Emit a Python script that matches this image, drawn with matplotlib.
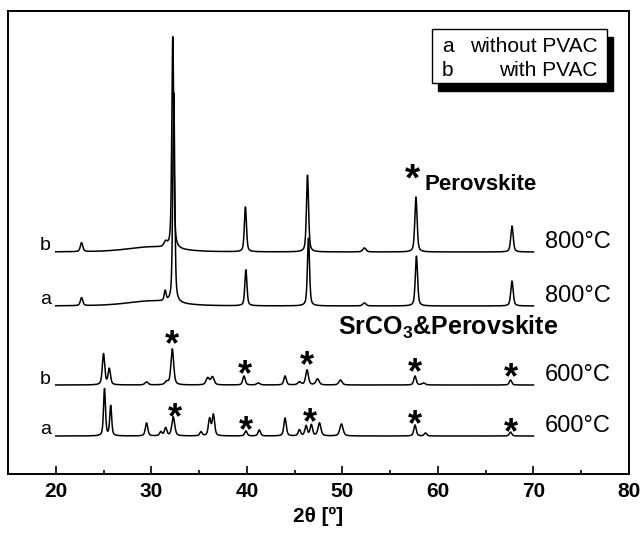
import numpy as np
import matplotlib
matplotlib.use('Agg')
import matplotlib.pyplot as plt
from matplotlib.patches import Rectangle

plt.rcParams['font.family'] = ['Liberation Sans', 'DejaVu Sans']
plt.rcParams['mathtext.fontset'] = 'custom'
plt.rcParams['mathtext.rm'] = 'Liberation Sans'
plt.rcParams['mathtext.bf'] = 'Liberation Sans:bold'

# peak tables for each pattern: (2theta, height, half width), intensities in a.u.
peaks_a600 = [(25.1, 47, 0.12), (25.75, 30, 0.12), (29.5, 13, 0.15), (31.0, 4, 0.15),
              (31.5, 8, 0.15), (32.3, 19, 0.18), (35.2, 4, 0.15), (36.1, 17, 0.15),
              (36.5, 21, 0.15), (39.9, 5, 0.15), (41.3, 6, 0.15), (44.0, 18, 0.15),
              (45.5, 6, 0.15), (46.2, 10, 0.15), (46.75, 11, 0.15), (47.6, 13, 0.18),
              (49.9, 12, 0.2), (57.6, 11, 0.15), (58.7, 3, 0.15), (67.6, 4, 0.15)]
peaks_b600 = [(25.0, 31, 0.15), (25.6, 16, 0.15), (29.5, 3, 0.2), (31.6, 3, 0.2),
              (32.2, 36, 0.17), (35.9, 7, 0.2), (36.4, 8, 0.2), (39.7, 9, 0.15),
              (41.2, 2, 0.2), (44.0, 9, 0.15), (45.5, 3, 0.2), (46.3, 15, 0.17),
              (47.4, 6, 0.2), (49.8, 5, 0.2), (57.6, 9, 0.15), (58.5, 2, 0.2),
              (67.6, 5, 0.15)]
peaks_a800 = [(22.7, 8, 0.15), (30.0, 5, 3.0), (31.45, 10, 0.12), (32.35, 211, 0.12),
              (39.9, 36, 0.13), (46.45, 68, 0.13), (52.3, 3, 0.2), (57.75, 50, 0.14),
              (67.75, 25, 0.15)]
peaks_b800 = [(22.7, 9, 0.15), (30.0, 5, 3.0), (31.5, 5, 0.2), (32.25, 213, 0.12),
              (39.85, 45, 0.13), (46.35, 77, 0.13), (52.3, 4, 0.2), (57.7, 55, 0.14),
              (67.75, 26, 0.15)]

patterns = [peaks_a600, peaks_b600, peaks_a800, peaks_b800]
offsets = [38, 89, 168, 222]
samples = ['a', 'b', 'a', 'b']
temps = ['600°C', '600°C', '800°C', '800°C']

# asterisk marks (2theta, centre height) over the 600 °C patterns
stars_a600 = [(32.5, 64), (39.9, 51), (46.6, 59), (57.6, 57), (67.6, 49)]
stars_b600 = [(32.2, 137), (39.75, 107), (46.3, 116), (57.6, 109), (67.6, 104)]


def pattern(x, peaks, eta=0.5):
    y = np.zeros_like(x)
    for c, h, w in peaks:
        lor = w**2 / ((x - c)**2 + w**2)
        gau = np.exp(-np.log(2) * ((x - c) / w)**2)
        y += h * (eta * lor + (1 - eta) * gau)
    return y


two_theta = np.arange(20, 70.001, 0.02)

fig = plt.figure(figsize=(6.42, 5.35), dpi=100)
ax = fig.add_axes([8 / 642, 61 / 535, 621 / 642, 463 / 535])

for peaks, off, s, t in zip(patterns, offsets, samples, temps):
    ax.plot(two_theta, off + pattern(two_theta, peaks), color='black', lw=1.1)
    ax.text(18.9, off + 6, s, fontsize=14, ha='center', va='center')
    ax.text(71.2, off + 10, t, fontsize=17, ha='left', va='center')

for x, yc in stars_a600 + stars_b600:
    ax.text(x, yc - 18, '*', fontsize=26, fontweight='bold', ha='center', va='baseline')

ax.text(57.3, 304 - 20, '*', fontsize=28, fontweight='bold', ha='center', va='baseline')
ax.text(58.6, 289, 'Perovskite', fontsize=16, fontweight='bold', ha='left', va='center')
ax.text(49.5, 147, r'$\mathbf{SrCO_3}$&Perovskite', fontsize=18, fontweight='bold',
        ha='left', va='center')

# legend box with a drop shadow
bx, by, bw, bh = 0.683, 0.845, 0.282, 0.116
ax.add_patch(Rectangle((bx + 0.009, by - 0.017), bw, bh, transform=ax.transAxes,
                       facecolor='black', edgecolor='black', zorder=4))
ax.add_patch(Rectangle((bx, by), bw, bh, transform=ax.transAxes,
                       facecolor='white', edgecolor='black', lw=1.0, zorder=5))
ax.text(bx + 0.016, 0.923, 'a', transform=ax.transAxes, fontsize=15, va='center', zorder=6)
ax.text(bx + 0.016, 0.872, 'b', transform=ax.transAxes, fontsize=15, va='center', zorder=6)
ax.text(bx + bw - 0.016, 0.923, 'without PVAC', transform=ax.transAxes, fontsize=15,
        ha='right', va='center', zorder=6)
ax.text(bx + bw - 0.016, 0.872, 'with PVAC', transform=ax.transAxes, fontsize=15,
        ha='right', va='center', zorder=6)

ax.set_xlim(15, 80)
ax.set_ylim(0, 463)
ax.set_xticks(np.arange(20, 81, 10))
ax.set_xticks(np.arange(25, 80, 10), minor=True)
ax.set_yticks([])
ax.tick_params(axis='x', which='both', direction='in', top=False, labelsize=15, pad=6)
ax.tick_params(axis='x', which='major', length=6, width=1.2)
ax.tick_params(axis='x', which='minor', length=3, width=1.2)
for lab in ax.get_xticklabels():
    lab.set_fontweight('bold')
for sp in ax.spines.values():
    sp.set_linewidth(1.4)
ax.set_xlabel('2θ [º]', fontsize=15, fontweight='bold', labelpad=4)

fig.savefig('out.png', dpi=100)
